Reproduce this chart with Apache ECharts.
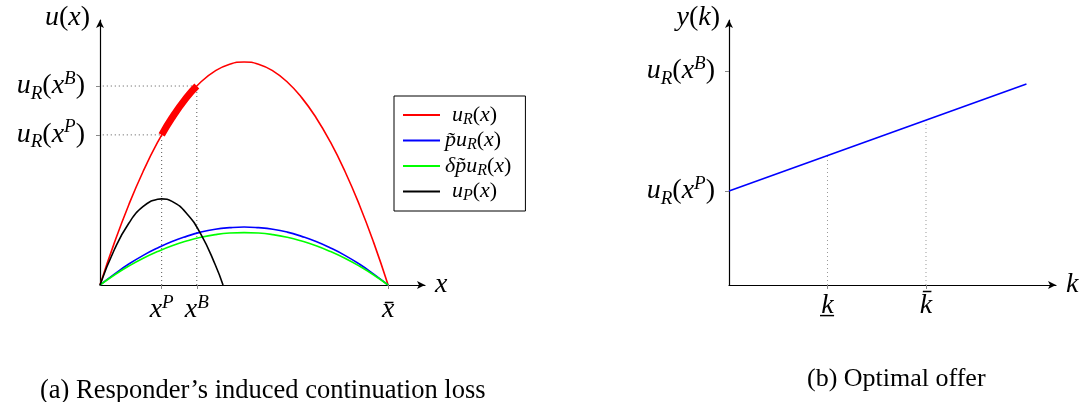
<!DOCTYPE html>
<html>
<head>
<meta charset="utf-8">
<script src="https://cdn.jsdelivr.net/npm/echarts@6/dist/echarts.min.js"></script>
<style>
html,body{margin:0;padding:0;background:#fff;}
#c{width:1082px;height:402px;}
</style>
</head>
<body>
<div id="c"></div>
<script>
// ---------- Panel (a) data ----------
const xGrid   = [0, 0.05, 0.1, 0.15, 0.2, 0.25, 0.3, 0.35, 0.4, 0.45, 0.5, 0.55, 0.6, 0.65, 0.7, 0.75, 0.8, 0.85, 0.9, 0.95, 1.0];
const redU    = [0, 0.19, 0.36, 0.51, 0.64, 0.75, 0.84, 0.91, 0.96, 0.99, 1.0, 0.99, 0.96, 0.91, 0.84, 0.75, 0.64, 0.51, 0.36, 0.19, 0];
const blueU   = [0, 0.049, 0.094, 0.133, 0.166, 0.195, 0.218, 0.237, 0.25, 0.257, 0.26, 0.257, 0.25, 0.237, 0.218, 0.195, 0.166, 0.133, 0.094, 0.049, 0];
const greenU  = [0, 0.045, 0.085, 0.12, 0.15, 0.176, 0.197, 0.214, 0.226, 0.233, 0.235, 0.233, 0.226, 0.214, 0.197, 0.176, 0.15, 0.12, 0.085, 0.045, 0];
const blackX  = [0, 0.05, 0.1, 0.15, 0.2, 0.214, 0.25, 0.3, 0.35, 0.4, 0.427];
const blackU  = [0, 0.159, 0.277, 0.352, 0.384, 0.386, 0.375, 0.322, 0.228, 0.091, 0];
const thickX  = [0.214, 0.25, 0.3, 0.336];
const thickU  = [0.673, 0.75, 0.84, 0.892];
const xP = 0.214, xB = 0.336, xBar = 1.0;
const uRxP = 0.673, uRxB = 0.892;
const leftXTicks  = [xP, xB, xBar];
const leftXLabels = ['{i|x}{sup|P}', '{i|x}{sup|B}', '{i|x̄}'];
const leftYTicks  = [uRxP, uRxB];
const leftYLabels = ['{i|u}{sub|R}{n|(}{i|x}{sup|P}{n|)}', '{i|u}{sub|R}{n|(}{i|x}{sup|B}{n|)}'];
const legendNames = ['uR', 'ptuR', 'dptuR', 'uP'];
const legendLabels = ['{i|u}{sub|R}{n|(}{i|x}{n|)}', '{i|p̃u}{sub|R}{n|(}{i|x}{n|)}', '{i|δp̃u}{sub|R}{n|(}{i|x}{n|)}', '{i|u}{sub|P}{n|(}{i|x}{n|)}'];

// ---------- Panel (b) data ----------
const kLine   = [0, 3.02];
const yLine   = [0.94, 2.01];
const kMarks  = [1, 2];
const kMarkY  = [1.294, 1.649];
const rightXLabels = ['{i|k̲}', '{i|k̄}'];
const rightYTicks  = [0.94, 2.14];
const rightYLabels = ['{i|u}{sub|R}{n|(}{i|x}{sup|P}{n|)}', '{i|u}{sub|R}{n|(}{i|x}{sup|B}{n|)}'];

const captions = ['(a) Responder’s induced continuation loss', '(b) Optimal offer'];

// ---------- styling ----------
const SERIF = '"Liberation Serif", "Times New Roman", serif';
const rich = {
  i:   {fontFamily: SERIF, fontStyle: 'italic', fontSize: 28, lineHeight: 34, color: '#000'},
  n:   {fontFamily: SERIF, fontStyle: 'normal', fontSize: 28, lineHeight: 34, color: '#000'},
  sub: {fontFamily: SERIF, fontStyle: 'italic', fontSize: 19, lineHeight: 19, verticalAlign: 'bottom', color: '#000'},
  sup: {fontFamily: SERIF, fontStyle: 'italic', fontSize: 19, lineHeight: 19, verticalAlign: 'top', color: '#000'}
};
const richLegend = {
  i:   {fontFamily: SERIF, fontStyle: 'italic', fontSize: 22, lineHeight: 25, color: '#000'},
  n:   {fontFamily: SERIF, fontStyle: 'normal', fontSize: 22, lineHeight: 25, color: '#000'},
  sub: {fontFamily: SERIF, fontStyle: 'italic', fontSize: 16, lineHeight: 15, verticalAlign: 'bottom', color: '#000'},
  p7:  {width: 7},
  p0:  {width: 0}
};
const legendPad = ['{p7|}', '{p0|}', '{p0|}', '{p7|}'];
function pick(vals, labels) {
  return function (v) {
    for (let i = 0; i < vals.length; i++) if (Math.abs(vals[i] - v) < 1e-6) return labels[i];
    return '';
  };
}
const axisLineStyle = {show: true, symbol: ['none', 'arrow'], symbolSize: [6, 8], lineStyle: {color: '#000', width: 1.2}};
const tickLine = {color: '#888', width: 1};
const zip = (a, b) => a.map((v, i) => [v, b[i]]);
const nameStyle = {fontFamily: SERIF, fontStyle: 'italic', fontSize: 28, color: '#000', verticalAlign: 'middle'};

const option = {
  animation: false,
  backgroundColor: '#fff',
  textStyle: {fontFamily: SERIF},
  title: [
    {text: captions[0], left: 35, top: 373, textStyle: {fontFamily: SERIF, fontWeight: 'normal', fontSize: 26.5, color: '#000'}},
    {text: captions[1], left: 802, top: 361, textStyle: {fontFamily: SERIF, fontWeight: 'normal', fontSize: 26, color: '#000'}}
  ],
  legend: {
    data: legendNames,
    left: 394, top: 96,
    orient: 'vertical',
    padding: [8, 14, 7, 9],
    itemGap: 2,
    itemWidth: 37, itemHeight: 2,
    icon: 'rect',
    borderColor: '#000', borderWidth: 1, borderRadius: 0,
    backgroundColor: '#fff',
    formatter: function (name) { const k = legendNames.indexOf(name); return legendPad[k] + legendLabels[k]; },
    textStyle: {fontFamily: SERIF, rich: richLegend}
  },
  grid: [
    {left: 100, top: 20, width: 325, height: 265},
    {left: 729, top: 20, width: 327, height: 265}
  ],
  xAxis: [
    {
      gridIndex: 0, type: 'value', min: 0, max: 1.128,
      name: 'x', nameLocation: 'end', nameGap: 10, nameTextStyle: nameStyle,
      axisLine: axisLineStyle,
      splitLine: {show: false},
      axisTick: {show: true, length: 4, customValues: leftXTicks, lineStyle: tickLine},
      axisLabel: {show: true, margin: 8, fontFamily: SERIF, customValues: leftXTicks, formatter: pick(leftXTicks, leftXLabels), rich: rich}
    },
    {
      gridIndex: 1, type: 'value', min: 0, max: 3.32,
      name: 'k', nameLocation: 'end', nameGap: 10, nameTextStyle: nameStyle,
      axisLine: axisLineStyle,
      splitLine: {show: false},
      axisTick: {show: true, length: 4, customValues: kMarks, lineStyle: tickLine},
      axisLabel: {show: true, margin: 4, fontFamily: SERIF, customValues: kMarks, formatter: pick(kMarks, rightXLabels), rich: rich}
    }
  ],
  yAxis: [
    {
      gridIndex: 0, type: 'value', min: 0, max: 1.188,
      name: '{i|u}{n|(}{i|x}{n|)}', nameLocation: 'end', nameGap: 2,
      nameTextStyle: {fontFamily: SERIF, align: 'right', verticalAlign: 'middle', padding: [0, 10, 0, 0], rich: rich},
      axisLine: axisLineStyle,
      splitLine: {show: false},
      axisTick: {show: true, length: 4, customValues: leftYTicks, lineStyle: tickLine},
      axisLabel: {show: true, margin: 15, fontFamily: SERIF, customValues: leftYTicks, formatter: pick(leftYTicks, leftYLabels), rich: rich}
    },
    {
      gridIndex: 1, type: 'value', min: 0, max: 2.65,
      name: '{i|y}{n|(}{i|k}{n|)}', nameLocation: 'end', nameGap: 2,
      nameTextStyle: {fontFamily: SERIF, align: 'right', verticalAlign: 'middle', padding: [0, 9, 0, 0], rich: rich},
      axisLine: axisLineStyle,
      splitLine: {show: false},
      axisTick: {show: true, length: 4, customValues: rightYTicks, lineStyle: tickLine},
      axisLabel: {show: true, margin: 14, fontFamily: SERIF, customValues: rightYTicks, formatter: pick(rightYTicks, rightYLabels), rich: rich}
    }
  ],
  series: [
    // dotted guides (a)
    {type: 'line', xAxisIndex: 0, yAxisIndex: 0, data: [[xP, 0], [xP, uRxP], [0, uRxP]], symbol: 'none', silent: true,
     lineStyle: {color: '#555', width: 1, type: [1, 3]}},
    {type: 'line', xAxisIndex: 0, yAxisIndex: 0, data: [[xB, 0], [xB, uRxB], [0, uRxB]], symbol: 'none', silent: true,
     lineStyle: {color: '#555', width: 1, type: [1, 3]}},
    {name: 'uR', type: 'line', xAxisIndex: 0, yAxisIndex: 0, data: zip(xGrid, redU), symbol: 'none', smooth: true,
     itemStyle: {color: '#ff0000'}, lineStyle: {color: '#ff0000', width: 1.6}},
    {name: 'ptuR', type: 'line', xAxisIndex: 0, yAxisIndex: 0, data: zip(xGrid, blueU), symbol: 'none', smooth: true,
     itemStyle: {color: '#0000ff'}, lineStyle: {color: '#0000ff', width: 1.6}},
    {name: 'dptuR', type: 'line', xAxisIndex: 0, yAxisIndex: 0, data: zip(xGrid, greenU), symbol: 'none', smooth: true,
     itemStyle: {color: '#00ff00'}, lineStyle: {color: '#00ff00', width: 1.6}},
    {name: 'uP', type: 'line', xAxisIndex: 0, yAxisIndex: 0, data: zip(blackX, blackU), symbol: 'none', smooth: true,
     itemStyle: {color: '#000'}, lineStyle: {color: '#000', width: 1.6}},
    {type: 'line', xAxisIndex: 0, yAxisIndex: 0, data: zip(thickX, thickU), symbol: 'none', smooth: true, silent: true,
     lineStyle: {color: '#ff0000', width: 7, cap: 'butt'}},
    // panel (b)
    {type: 'line', xAxisIndex: 1, yAxisIndex: 1, data: [[kMarks[0], 0], [kMarks[0], kMarkY[0]]], symbol: 'none', silent: true,
     lineStyle: {color: '#999', width: 1, type: [1, 3]}},
    {type: 'line', xAxisIndex: 1, yAxisIndex: 1, data: [[kMarks[1], 0], [kMarks[1], kMarkY[1]]], symbol: 'none', silent: true,
     lineStyle: {color: '#999', width: 1, type: [1, 3]}},
    {type: 'line', xAxisIndex: 1, yAxisIndex: 1, data: zip(kLine, yLine), symbol: 'none', silent: true,
     lineStyle: {color: '#0000ff', width: 1.6}}
  ]
};
const chart = echarts.init(document.getElementById('c'), null, {renderer: 'canvas'});
chart.setOption(option);
</script>
</body>
</html>
